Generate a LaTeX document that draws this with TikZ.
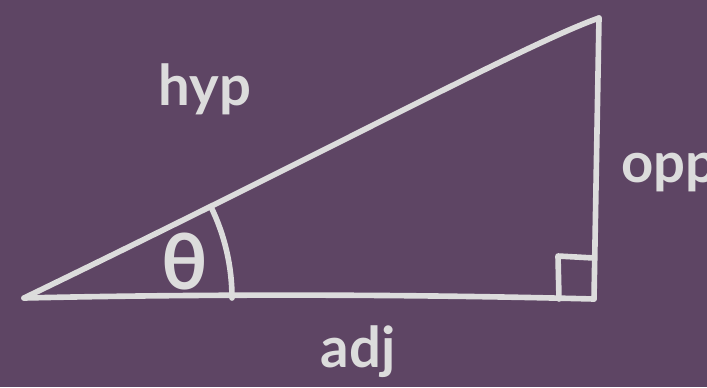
\documentclass[tikz,border=0pt]{standalone}
\usepackage{fontspec}
\setmainfont{Lato}
\definecolor{plum}{HTML}{5E4564}
\definecolor{chalk}{HTML}{DCDCDC}
\tikzset{
  chalkline/.style={draw=chalk, line width=3.2pt, line cap=round, line join=round},
  chalktext/.style={text=chalk, font=\bfseries\fontsize{32}{36}\selectfont, inner sep=0pt}
}
\begin{document}
\begin{tikzpicture}[x=0.02cm, y=-0.02cm]
  \fill[plum] (0,0) rectangle (707,387);
  \useasboundingbox (0,0) rectangle (707,387);
  % corners of the triangle
  \coordinate (A) at (24,298);
  \coordinate (B) at (594,299);
  \coordinate (C) at (599,18);
  % sides
  \draw[chalkline] (A) .. controls (330,150) and (530,42) .. (C);
  \draw[chalkline] (C) -- (B);
  \draw[chalkline] (A) .. controls (200,294) and (400,294) .. (B);
  % right angle mark
  \draw[chalkline] (559,299) -- (558,256) -- (594,258);
  % angle mark
  \draw[chalkline] (A) ++(0:208) arc[start angle=0, end angle=-26, radius=208];
  % labels
  \node[chalktext, anchor=base] (hyp) at (205,105) {hyp};
  \node[chalktext, anchor=base west] (opp) at (621,182) {opp};
  \node[chalktext, anchor=base] (adj) at (358,367) {adj};
  \node[chalktext, font=\bfseries\fontsize{44}{48}\selectfont] (theta) at (185,262) {θ};
\end{tikzpicture}
\end{document}
